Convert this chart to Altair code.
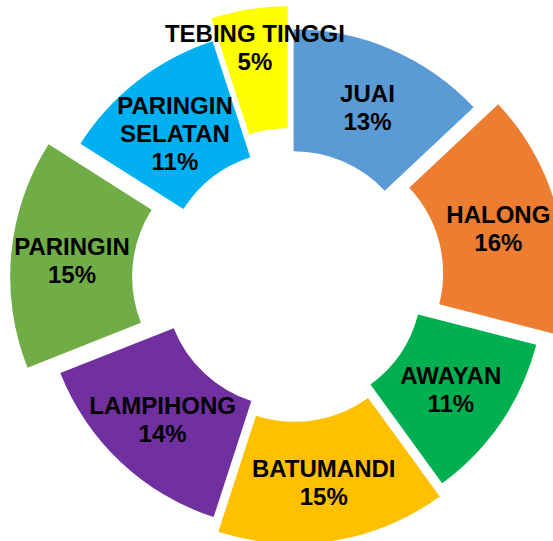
import altair as alt
import pandas as pd

# data
names = ["JUAI", "HALONG", "AWAYAN", "BATUMANDI", "LAMPIHONG",
         "PARINGIN", "PARINGIN SELATAN", "TEBING TINGGI"]
pct = [13, 16, 11, 15, 14, 15, 11, 5]

# styles
colors = ["#5B9BD5", "#ED7D31", "#00B050", "#FFC000", "#7030A0",
          "#70AD47", "#00B0F0", "#FFFF00"]
explode = [4, 27, 6, 17, 3, 35, 5, 27]
label_r = [186, 186, 186, 186, 186, 186, 186, 210]
display = {"PARINGIN SELATAN": "PARINGIN\nSELATAN"}

df = pd.DataFrame({
    "idx": list(range(len(names))),
    "name": names,
    "pct": pct,
    "explode": explode,
    "lr": label_r,
})
df["label"] = [display.get(n, n) + "\n" + f"{p}%" for n, p in zip(names, pct)]

base = alt.Chart(df).transform_window(
    cum="sum(pct)", sort=[alt.SortField("idx")], frame=[None, 0]
).transform_joinaggregate(
    total="sum(pct)"
).transform_calculate(
    mid="(datum.cum - datum.pct/2) / datum.total * 2 * PI",
    nl="length(split(datum.label, '\\n'))",
).transform_calculate(
    cx="292 + datum.explode * sin(datum.mid)",
    cy="280 - datum.explode * cos(datum.mid)",
).transform_calculate(
    lx="datum.cx + datum.lr * sin(datum.mid)",
    ly="datum.cy - datum.lr * cos(datum.mid) - (datum.nl - 1) * 11",
)

arcs = base.mark_arc(innerRadius=125, outerRadius=247).encode(
    theta=alt.Theta("pct:Q", stack=True),
    order=alt.Order("idx:Q"),
    color=alt.Color("name:N", scale=alt.Scale(domain=names, range=colors), legend=None),
    x=alt.X("cx:Q", scale=None),
    y=alt.Y("cy:Q", scale=None),
)

labels = base.mark_text(
    font="Liberation Sans", fontWeight="bold", fontSize=24,
    lineBreak="\n", lineHeight=28, align="center", baseline="middle",
    color="black",
).encode(
    x=alt.X("lx:Q", scale=None),
    y=alt.Y("ly:Q", scale=None),
    text="label:N",
)

chart = alt.layer(arcs, labels).properties(
    width=553, height=541,
    autosize=alt.AutoSizeParams(type="none"),
    padding=0,
).configure_view(stroke=None)

chart.save("out.html", embed_options={"renderer": "svg", "actions": False})
